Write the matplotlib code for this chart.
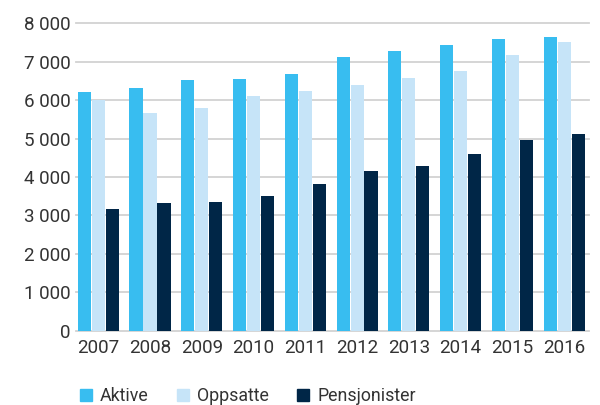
import matplotlib
matplotlib.use("Agg")
import matplotlib.pyplot as plt
from matplotlib.patches import Patch
import numpy as np

years = ["2007", "2008", "2009", "2010", "2011", "2012", "2013", "2014", "2015", "2016"]
aktive = [6210, 6320, 6530, 6550, 6680, 7120, 7280, 7440, 7590, 7640]
oppsatte = [6000, 5670, 5800, 6110, 6240, 6400, 6580, 6760, 7180, 7510]
pensjonister = [3170, 3320, 3350, 3510, 3820, 4160, 4290, 4600, 4960, 5120]
yticks = [0, 1000, 2000, 3000, 4000, 5000, 6000, 7000, 8000]

series = [("Aktive", aktive, "#38bdf0"),
          ("Oppsatte", oppsatte, "#c6e4f8"),
          ("Pensjonister", pensjonister, "#002647")]

plt.rcParams["font.family"] = ["Roboto", "DejaVu Sans"]
txt = "#333333"

fig = plt.figure(figsize=(6, 4.05), dpi=100)
ax = fig.add_axes([0.1267, 0.1835, 0.855, 0.759])

x = np.arange(len(years))
w = 0.255
for i, (name, vals, col) in enumerate(series):
    ax.bar(x + (i - 1) * 0.27, vals, width=w, color=col, zorder=3, label=name)

ax.set_ylim(0, 8000)
ax.set_xlim(-0.43, len(years) - 1 + 0.48)
ax.set_yticks(yticks)
ax.set_yticklabels([f"{v:,}".replace(",", " ") for v in yticks])
ax.set_xticks(x)
ax.set_xticklabels(years)
ax.tick_params(axis="both", length=0, labelsize=13.5, colors=txt)
ax.tick_params(axis="y", pad=4)
ax.tick_params(axis="x", pad=6)

ax.yaxis.grid(True, color="#d2d2d2", linewidth=1.3, zorder=0)
for gl in ax.get_ygridlines():
    gl.set_clip_on(False)
for s in ax.spines.values():
    s.set_visible(False)

handles = [Patch(color=c, label=n) for n, _, c in series]
fig.legend(handles=handles, loc="center left", bbox_to_anchor=(0.121, 0.022),
           ncol=3, frameon=False, fontsize=12.8, handlelength=0.68, handleheight=0.68,
           handletextpad=0.45, columnspacing=1.6, labelcolor=txt, borderaxespad=0)

fig.savefig("out.png", dpi=100)
